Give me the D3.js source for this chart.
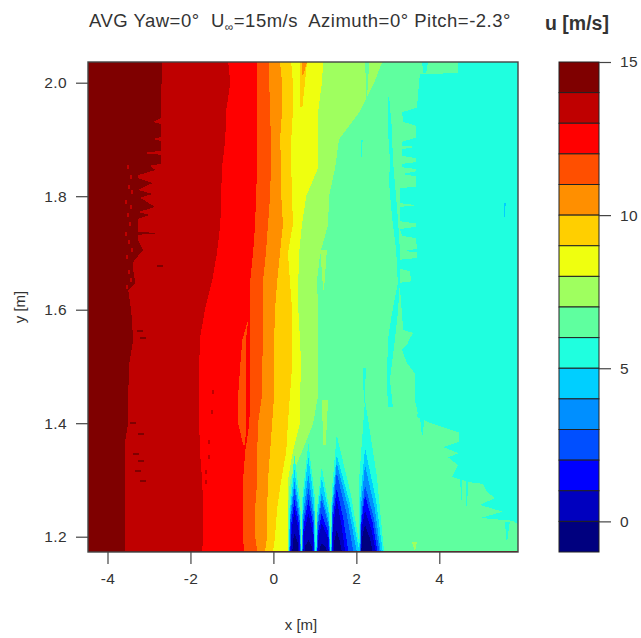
<!DOCTYPE html>
<html><head><meta charset="utf-8">
<script src="https://cdn.jsdelivr.net/npm/d3@7"></script>
<style>html,body{margin:0;padding:0;background:#fff}svg{display:block}text{font-family:"Liberation Sans",Arial,sans-serif;fill:#333}</style>
</head><body><svg id="c" width="641" height="638"></svg>
<script>
// ---- data (x [m], y [m], u [m/s]) ----
const xTicks=[-4,-2,0,2,4];
const yTicks=[1.2,1.4,1.6,1.8,2.0];
const uTicks=[0,5,10,15];
const uLevels=[15,14,13,12,11,10,9,8,7,6,5,4,3,2,1,0,-1];
const bandColors=["#7f0000","#bf0000","#ff0000","#ff4f00","#ff8f00","#ffcf00","#efff0f","#9fff5f","#5fff9f","#1fffdf","#00cfff","#008fff","#004fff","#0000ff","#0000bf","#00007f"];

// shared y rows for the smooth contour edges
const yRows=[2.036,2.0,1.95,1.9,1.85,1.8,1.75,1.7,1.65,1.6,1.55,1.5,1.45,1.4,1.35,1.3,1.25,1.2,1.174];
const edge13=[-1.09,-1.04,-1.14,-1.16,-1.24,-1.26,-1.28,-1.36,-1.48,-1.65,-1.77,-1.79,-1.79,-1.79,-1.77,-1.72,-1.69,-1.69,-1.72];
const edge12=[-0.39,-0.39,-0.39,-0.39,-0.39,-0.42,-0.44,-0.49,-0.56,-0.56,-0.56,-0.56,-0.56,-0.58,-0.68,-0.73,-0.73,-0.73,-0.71];
const edge11=[-0.10,-0.10,-0.08,-0.06,-0.06,-0.08,-0.13,-0.18,-0.25,-0.25,-0.25,-0.27,-0.27,-0.37,-0.39,-0.39,-0.44,-0.44,-0.39];
const edge10=[0.16,0.21,0.21,0.16,0.19,0.19,0.23,0.16,0.09,0.04,0.02,0.02,0.02,-0.03,-0.08,-0.13,-0.15,-0.15,-0.20];
const edge9=[0.43,0.47,0.47,0.43,0.43,0.45,0.47,0.35,0.40,0.45,0.45,0.45,0.40,0.35,0.31,0.19,0.09,0.04,-0.01];
const edge8=[1.20,1.17,1.08,1.08,1.08,0.79,0.69,0.62,0.60,0.60,0.64,0.67,0.64,0.64,0.47,0.35,0.35,0.35,0.35];
const edge7=[2.62,2.43,2.09,1.58,1.49,1.34,1.32,1.13,1.05,1.08,1.08,1.08,1.08,0.96,0.69,0.40,0.35,0.35,0.35];

// jagged edges have their own rows
const edge14Y=[2.036,1.938,1.931,1.927,1.904,1.901,1.897,1.880,1.876,1.873,1.857,1.854,1.846,1.837,1.832,1.823,1.811,1.804,1.797,1.781,1.772,1.767,1.760,1.737,1.735,1.732,1.723,1.705,1.695,1.684,1.670,1.647,1.635,1.599,1.547,1.503,1.450,1.400,1.370,1.265,1.174];
const edge14X=[-2.69,-2.71,-2.90,-2.71,-2.71,-2.90,-2.71,-2.71,-3.16,-2.71,-2.71,-2.97,-2.85,-3.26,-3.26,-2.92,-3.26,-2.92,-3.21,-2.85,-3.26,-2.97,-3.26,-3.26,-2.73,-3.26,-3.26,-3.14,-3.26,-3.38,-3.38,-3.33,-3.50,-3.43,-3.38,-3.48,-3.50,-3.50,-3.57,-3.57,-3.57];
const edge6Y=[2.036,2.017,2.015,1.956,1.948,1.931,1.924,1.903,1.896,1.889,1.887,1.883,1.871,1.867,1.860,1.857,1.851,1.848,1.844,1.839,1.835,1.817,1.814,1.788,1.784,1.781,1.756,1.752,1.746,1.742,1.730,1.726,1.707,1.703,1.702,1.691,1.688,1.672,1.668,1.650,1.647,1.640,1.564,1.559,1.550,1.538,1.529,1.506,1.488,1.441,1.418,1.411,1.402,1.384,1.367,1.358,1.347,1.340,1.326,1.305,1.296,1.293,1.279,1.268,1.256,1.244,1.233,1.228,1.221,1.174];
const edge6X=[4.45,4.45,3.53,3.46,3.10,3.13,3.44,3.44,3.10,3.10,3.44,3.10,3.10,3.44,3.44,3.10,3.10,3.44,3.44,3.10,3.44,3.44,3.05,3.05,3.44,3.05,3.05,3.44,3.44,3.05,3.10,3.44,3.46,3.10,3.46,3.46,3.05,3.05,3.29,3.32,3.00,3.05,3.13,3.37,3.29,3.22,3.10,3.22,3.41,3.41,3.48,3.46,3.73,4.47,4.47,4.09,4.47,4.21,4.45,4.31,4.74,5.05,5.15,5.34,4.98,5.53,5.00,5.78,5.90,5.90];

// islands: [y top .. bottom], left and right x, band index into bandColors
const islandBand=[8,7,7,9,9,7,9,9,9,9,9,9,10,3,5,4];
const islandY=[[2.036,1.965],[1.705,1.635],[1.441,1.361],[1.975,1.917,1.864,1.823,1.763,1.705,1.647,1.594,1.547,1.476,1.429],[2.036,2.017],[1.190,1.176],[1.226,1.194],[1.318,1.265],[1.300,1.244],[1.414,1.379],[1.497,1.436],[1.899,1.869],[1.788,1.763],[1.582,1.547,1.501,1.450,1.400,1.362],[2.036,1.957],[2.036,2.013]];
const islandL=[[2.21,2.25],[1.13,1.20],[1.17,1.20],[2.76,2.76,2.81,2.79,2.86,2.96,3.00,2.86,2.76,2.74,2.76],[3.58,3.62],[3.34,3.40],[5.58,5.62],[4.50,4.52],[4.64,4.66],[3.53,3.58],[2.16,2.18],[2.11,2.12],[5.55,5.56],[-0.61,-0.75,-0.80,-0.85,-0.85,-0.73],[0.64,0.64],[0.69,0.69]];
const islandR=[[2.31,2.25],[1.29,1.22],[1.32,1.26],[2.79,2.86,2.88,2.93,3.00,3.05,3.05,3.00,2.93,2.81,2.88],[3.73,3.68],[3.46,3.42],[5.70,5.64],[4.57,4.54],[4.69,4.67],[3.65,3.60],[2.23,2.20],[2.15,2.14],[5.60,5.58],[-0.61,-0.66,-0.66,-0.66,-0.66,-0.68],[0.81,0.70],[0.81,0.72]];

// small flecks of the next band along the noisy contours
const fleckX=[-3.53,-3.45,-3.50,-3.43,-3.57,-3.45,-3.53,-3.48,-3.57,-3.50,-3.43,-3.55,-3.38,-3.50,-3.45,-3.55,-1.48,-1.50,-1.57,-1.57,-1.65,-1.65];
const fleckY=[1.855,1.837,1.820,1.811,1.793,1.784,1.770,1.754,1.737,1.723,1.709,1.696,1.684,1.670,1.656,1.643,1.459,1.423,1.370,1.344,1.318,1.300];
const darkFleckX=[-3.28,-3.21,-3.26,-3.38,-3.26,-3.33,-3.21,-3.45,-2.80];
const darkFleckY=[1.564,1.552,1.383,1.347,1.335,1.318,1.300,1.402,1.678];

// wake fingers: for level u<6 ... u<0, the tip height and the base span at the bottom edge
const fingerLevels=[6,5,4,3,2,1,0];
const fingerBase=1.174;
const f1Apex=0.507, f2Apex=0.844, f3Apex=1.165, f4Apex=1.527, f5Apex=2.209;
const f1Tip=[1.344,1.318,1.297,1.285,1.265,1.247,1.206];
const f1L=[0.370,0.378,0.386,0.394,0.410,0.427,0.459];
const f1R=[0.675,0.667,0.659,0.651,0.643,0.627,0.595];
const f2Tip=[1.365,1.341,1.309,1.285,1.265,1.241,1.194];
const f2L=[0.675,0.683,0.692,0.700,0.708,0.724,0.756];
const f2R=[1.029,1.013,0.997,0.989,0.981,0.965,0.933];
const f3Tip=[1.323,1.303,1.277,1.265,1.241,1.224,1.188];
const f3L=[1.029,1.037,1.045,1.053,1.061,1.077,1.109];
const f3R=[1.383,1.375,1.366,1.358,1.350,1.334,1.286];
const f4Tip=[1.379,1.344,1.329,1.312,1.285,1.265,1.212];
const f4L=[1.383,1.391,1.399,1.407,1.415,1.431,1.463];
const f4R=[2.105,2.073,2.009,1.928,1.808,1.728,1.647];
const f5Tip=[1.441,1.356,1.326,1.291,1.274,1.247,1.221];
const f5L=[2.049,2.073,2.089,2.097,2.105,2.105,2.121];
const f5R=[2.667,2.635,2.587,2.555,2.507,2.467,2.394];
// share of the base half-width reached at mid height, left and right
const fingerShapeL=[0.85,0.85,0.85,0.85,0.85];
const fingerShapeR=[0.85,0.85,0.85,0.58,0.62];

// ---- drawing ----
const svg=d3.select("#c");
const x=d3.scaleLinear().domain([-4,4]).range([107.5,439.3]);
const y=d3.scaleLinear().domain([1.2,2.0]).range([536.7,82.7]);
const u=d3.scaleLinear().domain([-1,15]).range([552,62]);
const pL=88,pR=518,pT=62,pB=552;

svg.append("clipPath").attr("id","plot").append("rect").attr("x",pL).attr("y",pT).attr("width",pR-pL).attr("height",pB-pT);
const g=svg.append("g").attr("clip-path","url(#plot)").attr("shape-rendering","crispEdges");
g.append("rect").attr("x",pL).attr("y",pT).attr("width",pR-pL).attr("height",pB-pT).attr("fill",bandColors[0]);

const xMax=x.invert(pR+4);
const edgeArea=d3.area().y(d=>y(d[0])).x0(d=>x(d[1])).x1(x(xMax));
const zip=(a,b)=>a.map((v,i)=>[v,b[i]]);
const edges=[[14,edge14Y,edge14X],[13,yRows,edge13],[12,yRows,edge12],[11,yRows,edge11],[10,yRows,edge10],[9,yRows,edge9],[8,yRows,edge8],[7,yRows,edge7],[6,edge6Y,edge6X]];
edges.forEach(([lvl,ys,xs])=>{
  g.append("path").attr("d",edgeArea(zip(ys,xs))).attr("fill",bandColors[15-lvl]);
});

// islands
const islArea=d3.area().y(d=>y(d.y)).x0(d=>x(d.l)).x1(d=>x(d.r));
islandY.forEach((ys,i)=>{
  const pts=ys.map((v,j)=>({y:v,l:islandL[i][j],r:islandR[i][j]}));
  g.append("path").attr("d",islArea(pts)).attr("fill",bandColors[islandBand[i]]);
});

// flecks
g.selectAll("rect.f").data(zip(fleckX,fleckY)).join("rect").attr("class","f")
 .attr("x",d=>x(d[0])).attr("y",d=>y(d[1])).attr("width",2).attr("height",4).attr("fill",bandColors[1]);
g.selectAll("rect.df").data(zip(darkFleckX,darkFleckY)).join("rect").attr("class","df")
 .attr("x",d=>x(d[0])).attr("y",d=>y(d[1])).attr("width",6).attr("height",2).attr("fill",bandColors[0]);

// fingers, painted from the lightest level to the darkest
const fingers=[[f1Apex,f1Tip,f1L,f1R],[f2Apex,f2Tip,f2L,f2R],[f3Apex,f3Tip,f3L,f3R],[f4Apex,f4Tip,f4L,f4R],[f5Apex,f5Tip,f5L,f5R]];
const lineF=d3.line().x(d=>x(d[0])).y(d=>y(d[1]));
fingerLevels.forEach((lvl,k)=>{
  fingers.forEach(([apex,tip,L,R],n)=>{
    const t=tip[k],b=fingerBase,m=(t+b)/2;
    const pts=[[L[k],b],[apex+(L[k]-apex)*fingerShapeL[n],m],[apex,t],[apex+(R[k]-apex)*fingerShapeR[n],m],[R[k],b]];
    g.append("path").attr("d",lineF(pts)+"Z").attr("fill",bandColors[15-lvl]);
  });
});

// frame
svg.append("rect").attr("x",pL).attr("y",pT).attr("width",pR-pL).attr("height",pB-pT).attr("fill","none").attr("stroke","#444").attr("stroke-width",1.4);

// axes
const ax=svg.append("g").attr("transform",`translate(0,${pB})`).call(d3.axisBottom(x).tickValues(xTicks).tickSize(12).tickPadding(9).tickFormat(d=>d3.format("d")(d).replace("−","-")));
const ay=svg.append("g").attr("transform",`translate(${pL},0)`).call(d3.axisLeft(y).tickValues(yTicks).tickSize(12).tickPadding(9).tickFormat(d3.format(".1f")));
[ax,ay].forEach(a=>{a.select(".domain").remove();a.selectAll("line").attr("stroke","#444").attr("stroke-width",1.2);a.selectAll("text").style("font-size","15.5px").style("letter-spacing","0.4px").attr("fill","#333");});

svg.append("text").attr("x",301).attr("y",630).attr("text-anchor","middle").style("font-size","15px").text("x [m]");
svg.append("text").attr("transform","translate(25,307) rotate(-90)").attr("text-anchor","middle").style("font-size","15px").text("y [m]");

// title
const title=svg.append("text").attr("x",89).attr("y",27).style("font-size","18.5px").style("letter-spacing","0.5px").style("white-space","pre");
title.append("tspan").text("AVG Yaw=0°  U");
title.append("tspan").attr("dy",4).style("font-size","12px").text("∞");
title.append("tspan").attr("dy",-4).text("=15m/s  Azimuth=0° Pitch=-2.3°");
svg.append("text").attr("x",545).attr("y",30).style("font-size","19.5px").style("font-weight","bold").text("u [m/s]");

// colour bar
const bx=559,bw=40;
const levelPairs=d3.pairs(uLevels);
svg.selectAll("rect.cb").data(levelPairs).join("rect").attr("class","cb")
 .attr("x",bx).attr("width",bw).attr("y",d=>u(d[0])).attr("height",d=>u(d[1])-u(d[0]))
 .attr("fill",(d,i)=>bandColors[i]).attr("stroke","#222").attr("stroke-width",1);
const ac=svg.append("g").attr("transform",`translate(${bx+bw},0)`).call(d3.axisRight(u).tickValues(uTicks).tickSize(12).tickPadding(9).tickFormat(d3.format("d")));
ac.select(".domain").remove();ac.selectAll("line").attr("stroke","#444").attr("stroke-width",1.2);ac.selectAll("text").style("font-size","15.5px").style("letter-spacing","0.4px");
</script></body></html>
